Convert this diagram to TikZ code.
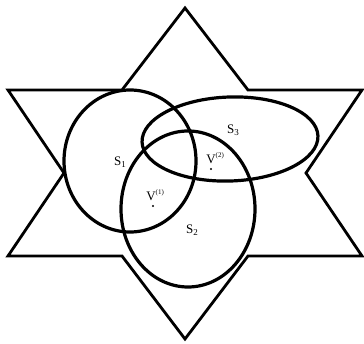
\documentclass[tikz,border=0pt]{standalone}
\usepackage{fontspec}
\setmainfont{Liberation Serif}
\usetikzlibrary{positioning}

\newcommand{\sub}[2]{#1\raisebox{-0.3ex}{\small #2}}
\newcommand{\vtx}[1]{V\rlap{\raisebox{0.9ex}{\scriptsize(#1)}}}

\begin{document}
\begin{tikzpicture}[
    x=1pt, y=-1pt,
    font=\fontsize{13}{15}\selectfont,
    star/.style={draw=black, line width=2.8pt, line join=miter},
    set/.style={draw=black, line width=3.2pt},
    lbl/.style={inner sep=0pt},
    pt/.style={circle, fill=black, inner sep=0pt, minimum size=2.4pt}
  ]
    \useasboundingbox (0,0) rectangle (364,344);

    % six-pointed star
    \draw[star] (185,8) -- (248,90) -- (362,90) -- (306,173) -- (362,256)
      -- (248,256) -- (185,339) -- (122,256) -- (8,256) -- (64,173)
      -- (8,90) -- (122,90) -- cycle;

    % the three sets
    \draw[set] (130,161) ellipse [x radius=66, y radius=71];
    \draw[set] (188,209) ellipse [x radius=67, y radius=78];
    \draw[set, rotate around={2:(230,139)}] (230,139) ellipse [x radius=88, y radius=42];

    \node[lbl] (s1) at (120,162) {\sub{S}{1}};
    \node[lbl] (s2) at (192,230) {\sub{S}{2}};
    \node[lbl] (s3) at (233,130) {\sub{S}{3}};

    \node[pt] (v1) at (153,206) {};
    \node[lbl, above=4pt of v1, xshift=-2pt] (v1lbl) {\vtx{1}};
    \node[pt] (v2) at (211,169) {};
    \node[lbl, above=4pt of v2, xshift=0pt] (v2lbl) {\vtx{2}};
\end{tikzpicture}
\end{document}
